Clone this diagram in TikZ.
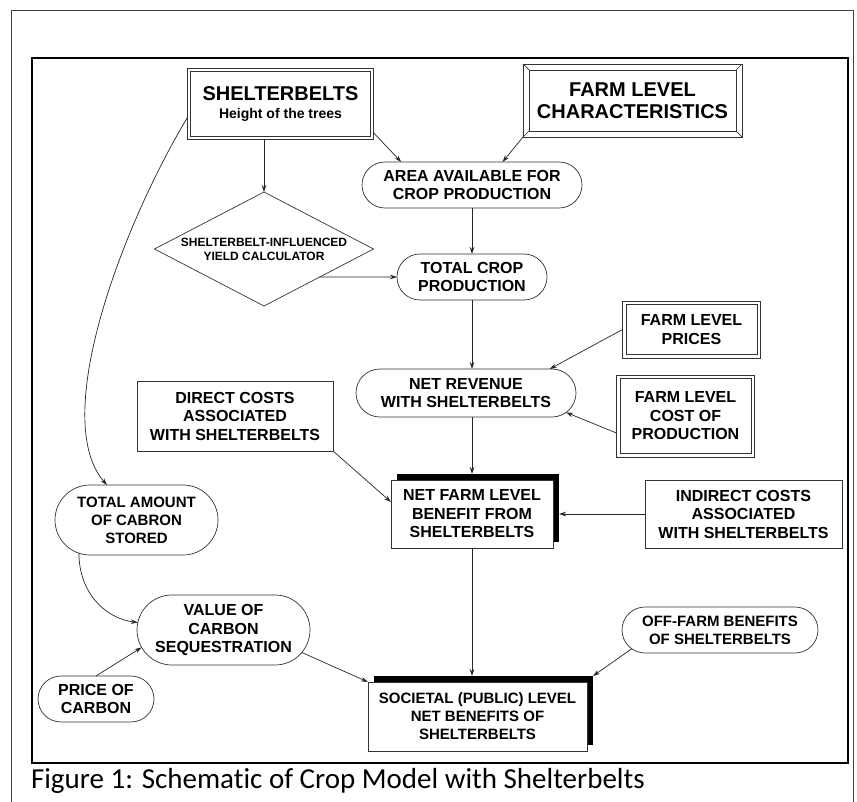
\documentclass[tikz,border=0pt]{standalone}
\usepackage{fontspec}
\setmainfont{Liberation Sans}
\newfontfamily\capfont[Ligatures={NoCommon}]{Carlito}
\usetikzlibrary{shapes.geometric,shapes.misc,arrows.meta,calc,backgrounds}
\begin{document}
\begin{tikzpicture}[x=1pt,y=-1pt,
  every node/.style={inner sep=0pt, outer sep=0pt, align=center},
  t16/.style={font=\fontsize{16}{18.5}\selectfont\bfseries},
  t15/.style={font=\fontsize{15}{18}\selectfont\bfseries},
  arr/.style={draw=black!85, line width=0.7pt, -{Stealth[length=7pt,width=4.5pt]}},
  box/.style={draw=black!80, line width=0.7pt, fill=white, rectangle},
  line/.style={draw=black!80, line width=0.7pt},
  pill/.style={draw=black!80, line width=0.7pt, rounded rectangle, fill=white},
  frameout/.style={draw=black!75, line width=1.5pt},
  framein/.style={draw=black, line width=2.5pt},
]
\useasboundingbox (0,0) rectangle (857,802);
\begin{scope}[on background layer]
  \fill[white] (0,0) rectangle (857,802);
\end{scope}

% frames
\draw[frameout] (11.5,802) -- (11.5,10.5) -- (853.5,10.5) -- (853.5,802);
\draw[framein] (32,58) rectangle (848,763);

% nodes
\node[box, minimum width=180pt, minimum height=65pt, font=\fontsize{20}{18}\selectfont\bfseries] (shb) at (280.5,104)
  {SHELTERBELTS\\{\fontsize{14}{16}\selectfont Height of the trees}};
\draw[line] ($(shb.north west)+(-2.8,-2.8)$) rectangle ($(shb.south east)+(2.8,2.8)$);
\coordinate (shbW) at ($(shb.west)+(-2.8,13)$);
\coordinate (shbSE) at ($(shb.south east)+(2.8,-4)$);

\node[box, minimum width=207pt, minimum height=61pt, font=\fontsize{20}{21.5}\selectfont\bfseries] (fmc) at (632.5,100.5)
  {FARM LEVEL\\CHARACTERISTICS};
\coordinate (fmcNW) at ($(fmc.north west)+(-6,-6)$);
\coordinate (fmcNE) at ($(fmc.north east)+(6,-6)$);
\coordinate (fmcSW) at ($(fmc.south west)+(-6,6)$);
\coordinate (fmcSE) at ($(fmc.south east)+(6,6)$);
\draw[line] (fmcNW) rectangle (fmcSE);
\draw[line] (fmcNW) -- (fmc.north west) (fmcNE) -- (fmc.north east)
  (fmcSW) -- (fmc.south west) (fmcSE) -- (fmc.south east);

\node[pill, t16, minimum width=220pt, minimum height=46pt] (area) at (472,185)
  {AREA AVAILABLE FOR\\CROP PRODUCTION};
\node[draw=black!80, line width=0.7pt, diamond, shape aspect=1.92, minimum width=219pt, minimum height=114pt,
  font=\fontsize{12}{14}\selectfont\bfseries] (dia) at (264,249)
  {SHELTERBELT-INFLUENCED\\YIELD CALCULATOR};
\node[pill, t16, minimum width=150pt, minimum height=46pt] (tcp) at (472,277)
  {TOTAL CROP\\PRODUCTION};
\node[pill, t16, minimum width=220pt, minimum height=48pt] (nrev) at (466,393)
  {NET REVENUE\\WITH SHELTERBELTS};

\node[box, t16, minimum width=131pt, minimum height=50pt] (flp) at (691.5,329.5)
  {FARM LEVEL\\PRICES};
\draw[line] ($(flp.north west)+(-3.5,-3.5)$) rectangle ($(flp.south east)+(3.5,3.5)$);
\coordinate (flpW) at ($(flp.west)+(-3.5,0)$);
\node[box, t16, minimum width=131pt, minimum height=75pt] (flc) at (685.5,416)
  {FARM LEVEL\\COST OF\\PRODUCTION};
\draw[line] ($(flc.north west)+(-3.5,-3.5)$) rectangle ($(flc.south east)+(3.5,3.5)$);
\coordinate (flcW) at ($(flc.west)+(-3.5,17)$);

\node[box, t16, minimum width=196pt, minimum height=70pt] (dc) at (235,416)
  {DIRECT COSTS\\ASSOCIATED\\WITH SHELTERBELTS};
\node[box, t16, minimum width=162pt, minimum height=68pt] (nfb) at (472,514)
  {NET FARM LEVEL\\BENEFIT FROM\\SHELTERBELTS};
\node[box, t16, minimum width=197pt, minimum height=68pt] (ic) at (743.5,514)
  {INDIRECT COSTS\\ASSOCIATED\\WITH SHELTERBELTS};
\node[pill, t15, minimum width=163pt, minimum height=70pt] (tac) at (136.5,520)
  {TOTAL AMOUNT\\OF CABRON\\STORED};
\node[pill, t16, minimum width=173pt, minimum height=70pt] (vcs) at (223.5,630)
  {VALUE OF\\CARBON\\SEQUESTRATION};
\node[pill, t16, minimum width=116pt, minimum height=46pt] (pc) at (96,699)
  {PRICE OF\\CARBON};
\node[box, t15, minimum width=219pt, minimum height=69pt] (snb) at (477.5,716.5)
  {SOCIETAL (PUBLIC) LEVEL\\NET BENEFITS OF\\SHELTERBELTS};
\node[pill, t15, minimum width=196pt, minimum height=46pt] (ofb) at (720,630)
  {OFF-FARM BENEFITS\\OF SHELTERBELTS};

% shadows
\begin{scope}[on background layer]
  \fill[black] ([xshift=6pt,yshift=6pt]nfb.south west) rectangle ([xshift=6pt,yshift=6pt]nfb.north east);
  \fill[black] ([xshift=6pt,yshift=6pt]snb.south west) rectangle ([xshift=6pt,yshift=6pt]snb.north east);
\end{scope}
\coordinate (nfbST) at ($(nfb.north)+(0,-6)$);
\coordinate (nfbSR) at ($(nfb.east)+(6,0)$);
\coordinate (snbST) at ($(nfb.south |- snb.north)+(0,-6)$);
\coordinate (snbNE) at ($(snb.north east)+(6,-6)$);

% connectors
\draw[arr] (shbSE) -- (area.162);
\draw[arr] (fmcSW) -- (area.37);
\draw[arr] ($(dia.north |- shb.south)+(0,2.8)$) -- (dia.north);
\draw[arr] ($(dia.east)!0.491!(dia.south)$) -- (tcp.west);
\draw[arr] (area.south) -- (tcp.north);
\draw[arr] (tcp.south) -- (tcp.south |- nrev.north);
\draw[arr] (flpW) -- (nrev.16.5);
\draw[arr] (flcW) -- (nrev.-11);
\draw[arr] (nrev.south -| tcp.south) -- (nfbST);
\draw[arr] (dc.south east) -- ([yshift=12pt]nfb.west);
\draw[arr] (ic.west) -- (nfbSR);
\draw[arr] (shbW) .. controls (120,230) and (50,420) .. ([xshift=-29.5pt]tac.north);
\draw[arr] (tac.210) .. controls +(0,40) and +(-32,-4) .. (vcs.175);
\draw[arr] (pc.north) -- (vcs.192);
\draw[arr] (vcs.-16) -- (snb.north west);
\draw[arr] (nfb.south) -- (snbST);
\draw[arr] (ofb.192) -- (snbNE);

% caption
\node[anchor=base west, font=\capfont\fontsize{29}{31}\selectfont] (cap) at (31,788)
  {Figure 1: Schematic of Crop Model with Shelterbelts};
\end{tikzpicture}
\end{document}
